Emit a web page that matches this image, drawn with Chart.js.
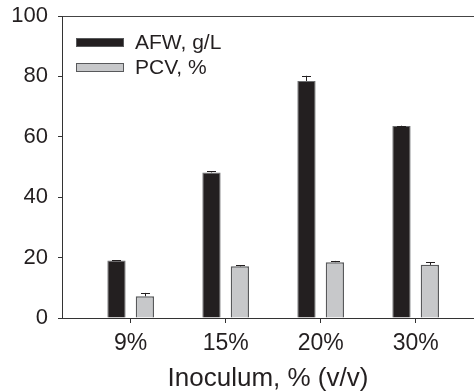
<!DOCTYPE html>
<html>
<head>
<meta charset="utf-8">
<script src="https://cdn.jsdelivr.net/npm/chart.js@4"></script>
<style>
html, body { margin: 0; padding: 0; background: #fff; }
#wrap { width: 474px; height: 392px; }
</style>
</head>
<body>
<div id="wrap"><canvas id="myChart"></canvas></div>
<script>
var categories = ["9%", "15%", "20%", "30%"];
var afw = [19.0, 48.2, 78.5, 63.6];      // AFW, g/L
var afwErr = [0.2, 0.4, 1.7, 0.1];
var pcv = [7.2, 17.1, 18.5, 17.6];       // PCV, %
var pcvErr = [1.1, 0.4, 0.4, 0.9];
var yTicks = [0, 20, 40, 60, 80, 100];

var ink = '#231f20';
Chart.defaults.font.family = '"Liberation Sans", Arial, sans-serif';
Chart.defaults.color = ink;

function points(arr) {
    return arr.map(function (v, i) { return { x: i, y: v }; });
}

// draws the upward error bars on top of each bar
var errorBars = {
    id: 'errorBars',
    afterDatasetsDraw: function (chart) {
        var ctx = chart.ctx, yScale = chart.scales.y;
        chart.data.datasets.forEach(function (ds, d) {
            var meta = chart.getDatasetMeta(d);
            meta.data.forEach(function (bar, i) {
                var top = yScale.getPixelForValue(ds.data[i].y + ds.errors[i]);
                var x = Math.round(bar.x) + 0.5;
                ctx.save();
                ctx.strokeStyle = ink;
                ctx.lineWidth = 1;
                ctx.beginPath();
                ctx.moveTo(x, bar.y);
                ctx.lineTo(x, top);
                ctx.moveTo(x - 4.5, Math.round(top) + 0.5);
                ctx.lineTo(x + 4.5, Math.round(top) + 0.5);
                ctx.stroke();
                ctx.restore();
            });
        });
    }
};

// legend inside the plot, top left
var legendBoxes = {
    id: 'legendBoxes',
    afterDraw: function (chart) {
        var ctx = chart.ctx, area = chart.chartArea;
        chart.data.datasets.forEach(function (ds, d) {
            var x = area.left + 14, y = area.top + 22 + d * 25;
            ctx.save();
            ctx.fillStyle = ds.backgroundColor;
            ctx.fillRect(x, y, 48, 9);
            ctx.strokeStyle = '#58595b';
            ctx.lineWidth = 1;
            ctx.strokeRect(x + 0.5, y + 0.5, 47, 8);
            ctx.fillStyle = ink;
            ctx.font = '21px "Liberation Sans", Arial, sans-serif';
            ctx.textBaseline = 'middle';
            ctx.fillText(ds.label, x + 59, y + 5);
            ctx.restore();
        });
    }
};

var ctx = document.getElementById("myChart").getContext('2d');
var myChart = new Chart(ctx, {
    type: 'bar',
    data: {
        datasets: [{
            label: 'AFW, g/L',
            data: points(afw),
            errors: afwErr,
            backgroundColor: ink,
            borderColor: '#6d6e70',
            borderWidth: 1
        }, {
            label: 'PCV, %',
            data: points(pcv),
            errors: pcvErr,
            backgroundColor: '#c7c8ca',
            borderColor: '#58595b',
            borderWidth: 1.5
        }]
    },
    options: {
        responsive: true,
        maintainAspectRatio: false,
        animation: false,
        categoryPercentage: 0.598,
        barPercentage: 0.644,
        layout: { padding: { top: 16, left: 0, right: 0, bottom: 0 } },
        plugins: {
            legend: { display: false },
            tooltip: { enabled: false }
        },
        scales: {
            x: {
                type: 'linear',
                offset: false,
                min: -0.723,
                max: 3.614,
                afterFit: function (s) { s.height = 74; s.paddingLeft = 0; s.paddingRight = 0; },
                ticks: {
                    stepSize: 1,
                    includeBounds: false,
                    font: { size: 23 },
                    padding: 7,
                    callback: function (v) { return categories[v]; }
                },
                grid: { offset: false, drawOnChartArea: false, color: '#333', tickLength: 5 },
                border: { color: '#333', width: 1 },
                title: {
                    display: true,
                    text: 'Inoculum, % (v/v)',
                    font: { size: 26 },
                    padding: { top: 0, bottom: -2 }
                }
            },
            y: {
                min: 0,
                max: 100,
                afterFit: function (s) { s.width = 62; s.paddingTop = 0; s.paddingBottom = 0; },
                afterBuildTicks: function (s) {
                    s.ticks = yTicks.map(function (v) { return { value: v }; });
                },
                ticks: { font: { size: 22 }, padding: 10 },
                grid: {
                    color: function (c) { return c.tick && c.tick.value === 100 ? '#444' : 'transparent'; },
                    tickColor: '#333',
                    tickLength: 4
                },
                border: { color: '#333', width: 1 }
            }
        }
    },
    plugins: [errorBars, legendBoxes]
});
</script>
</body>
</html>
